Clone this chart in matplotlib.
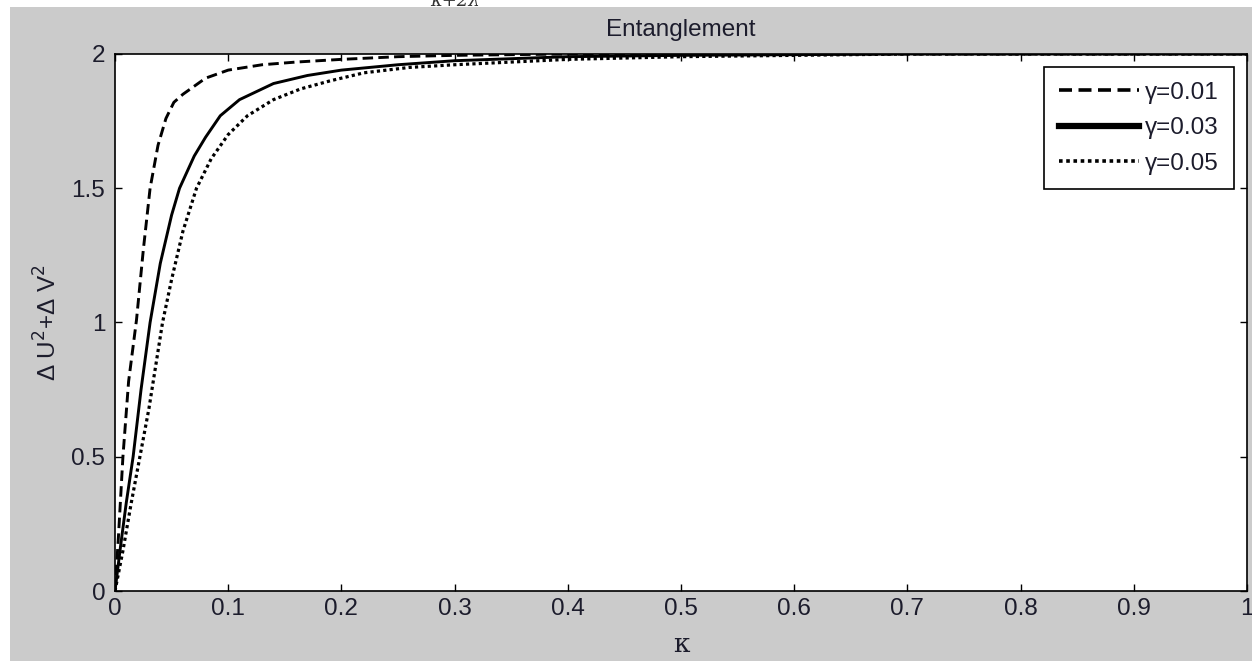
import matplotlib.pyplot as plt
from matplotlib.patches import Rectangle

kappa_01 = [0, 0.003, 0.007, 0.012, 0.019, 0.025, 0.031, 0.038, 0.045, 0.052, 0.06,
            0.07, 0.08, 0.1, 0.13, 0.16, 0.2, 0.25, 0.3, 0.4, 0.5, 0.7, 1.0]
val_01 = [0, 0.2, 0.5, 0.78, 1.01, 1.27, 1.5, 1.66, 1.76, 1.82, 1.85,
          1.88, 1.91, 1.94, 1.96, 1.97, 1.98, 1.99, 1.995, 2.0, 2.0, 2.0, 2.0]

kappa_03 = [0, 0.005, 0.01, 0.016, 0.023, 0.031, 0.04, 0.05, 0.057, 0.07, 0.08,
            0.093, 0.11, 0.14, 0.17, 0.2, 0.25, 0.3, 0.4, 0.5, 0.7, 1.0]
val_03 = [0, 0.17, 0.33, 0.5, 0.75, 1.0, 1.22, 1.4, 1.5, 1.62, 1.69,
          1.77, 1.83, 1.89, 1.92, 1.94, 1.96, 1.975, 1.99, 1.995, 2.0, 2.0]

kappa_05 = [0, 0.007, 0.014, 0.022, 0.03, 0.042, 0.05, 0.06, 0.072, 0.085, 0.1, 0.117,
            0.14, 0.164, 0.19, 0.22, 0.26, 0.3, 0.35, 0.4, 0.5, 0.7, 1.0]
val_05 = [0, 0.15, 0.32, 0.5, 0.68, 1.0, 1.16, 1.34, 1.5, 1.61, 1.7, 1.77,
          1.83, 1.87, 1.9, 1.93, 1.95, 1.96, 1.97, 1.98, 1.99, 2.0, 2.0]

labels = ['γ=0.01', 'γ=0.03', 'γ=0.05']
xticks = [0, 0.1, 0.2, 0.3, 0.4, 0.5, 0.6, 0.7, 0.8, 0.9, 1]
yticks = [0, 0.5, 1, 1.5, 2]

plt.rcParams['font.family'] = ['Liberation Sans', 'DejaVu Sans']
txt = '#1c1c2c'
fs = 17.5

fig = plt.figure(figsize=(12.52, 6.61), dpi=100, facecolor='white')
fig.patches.append(Rectangle((10 / 1252, 0), 1, (661 - 7) / 661, transform=fig.transFigure,
                             facecolor='#cbcbcb', edgecolor='none', zorder=-10))
# bottom of a formula cut off at the top edge, as in the reference
fig.text(430 / 1252, (661 - 6) / 661, 'κ+2λ', fontsize=13, style='italic',
         family='DejaVu Serif', color='#333333', va='baseline')

ax = fig.add_axes([115 / 1252, (661 - 591) / 661, (1247 - 115) / 1252, (591 - 54) / 661])
ax.set_facecolor('white')

ax.plot(kappa_01, val_01, color='black', lw=2.1, linestyle=(0, (3.6, 1.8)), label=labels[0])
ax.plot(kappa_03, val_03, color='black', lw=2.1, linestyle='-', label=labels[1])
ax.plot(kappa_05, val_05, color='black', lw=2.3, linestyle=(0, (1, 1)), label=labels[2])

ax.set_xlim(0, 1)
ax.set_ylim(0, 2)
ax.set_xticks(xticks)
ax.set_xticklabels([('%g' % t) for t in xticks])
ax.set_yticks(yticks)
ax.set_yticklabels([('%g' % t) for t in yticks])
ax.tick_params(direction='in', length=5, width=1, top=True, right=True,
               labelsize=fs, labelcolor=txt)
ax.tick_params(axis='x', pad=5)
ax.tick_params(axis='y', pad=7)
for s in ax.spines.values():
    s.set_linewidth(1.2)

ax.set_title('Entanglement', fontsize=fs, color=txt, pad=13)
ax.set_xlabel('κ', fontsize=19, color=txt, family='DejaVu Serif', labelpad=9)
ax.set_ylabel('Δ U$^2$+Δ V$^2$', fontsize=fs, color=txt, labelpad=7)

leg = ax.legend(loc='upper right', fontsize=fs, frameon=True, fancybox=False,
                edgecolor='black', framealpha=1, handlelength=3.3, handletextpad=0.25,
                labelspacing=0.55, borderaxespad=0.55, borderpad=0.6)
leg.get_frame().set_linewidth(1.2)
for t in leg.get_texts():
    t.set_color(txt)
for ln, w in zip(leg.get_lines(), [2.6, 4.5, 2.6]):
    ln.set_linewidth(w)

fig.savefig('out.png', dpi=100, facecolor=fig.get_facecolor())
